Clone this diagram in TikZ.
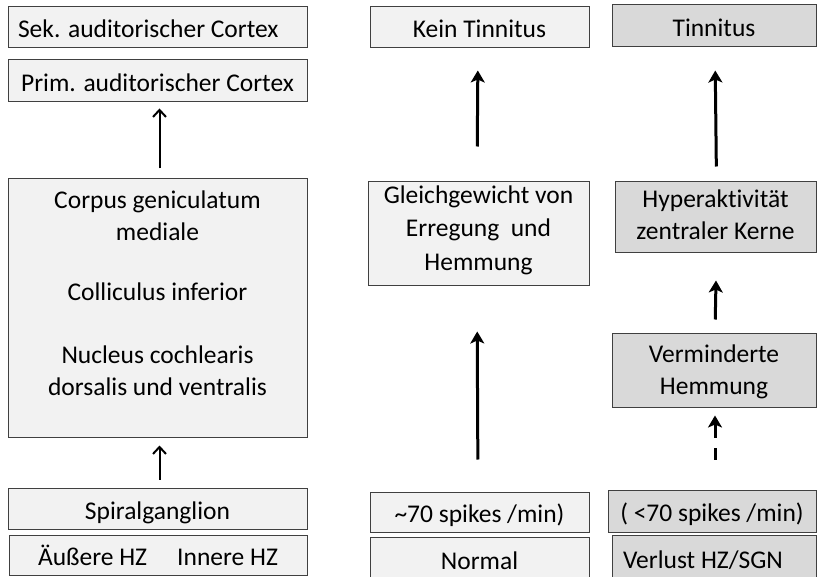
\documentclass[tikz,border=0pt]{standalone}
\usepackage{fontspec}
\setmainfont{Carlito}[Ligatures=NoCommon]
\usetikzlibrary{arrows.meta}
\definecolor{lightfill}{HTML}{F2F2F2}
\definecolor{darkfill}{HTML}{D9D9D9}
\definecolor{edgecol}{HTML}{404040}
\tikzset{
  box/.style={draw=edgecol, line width=1pt, fill=lightfill, inner sep=0pt, align=center,
    font=\fontsize{25.5}{33}\selectfont},
  dbox/.style={box, fill=darkfill},
  oneline/.style={text height=21pt, text depth=0pt},
  thinarrow/.style={line width=2pt, -{Straight Barb[length=7pt,width=13pt]}},
  thickarrow/.style={line width=3pt, -{Stealth[length=12pt,width=14pt,inset=3pt]}},
  txt/.style={inner sep=0pt, align=center, font=\fontsize{25.5}{32}\selectfont}
}
\begin{document}
\begin{tikzpicture}[x=1pt,y=-1pt]
\clip (0,0) rectangle (817,577);
\fill[white] (0,0) rectangle (817,577);
% left column
\node[box, oneline, minimum width=299, minimum height=41, text width=279, inner xsep=10pt, align=flush left] (sek) at (157.5,27.5) {Sek. auditorischer Cortex};
\node[box, oneline, minimum width=299, minimum height=42] (prim) at (157.5,81) {Prim. auditorischer Cortex};
\node[box, minimum width=299, minimum height=258] (big) at (157.5,308) {};
\node[txt] (bigtext) at (157.5,293.5) {Corpus geniculatum\\mediale\\[28pt]Colliculus inferior\\[31pt]Nucleus cochlearis\\dorsalis und ventralis};
\node[box, oneline, minimum width=299, minimum height=41] (spiral) at (157.5,508.5) {Spiralganglion};
\node[box, oneline, minimum width=298, minimum height=40] (hz) at (158,555) {Äußere HZ\hspace{30pt}Innere HZ};
% middle column
\node[box, oneline, minimum width=219, minimum height=41] (kein) at (479.5,27.5) {Kein Tinnitus};
\node[box, minimum width=221, minimum height=104] (gleich) at (478.5,234) {};
\node[txt, font=\fontsize{25.5}{33.5}\selectfont] (gleichtext) at (478.5,230) {Gleichgewicht von\\Erregung~ und\\Hemmung};
\node[box, oneline, minimum width=219, minimum height=40] (snorm) at (479.5,512) {\textasciitilde70 spikes /min)};
\node[box, oneline, minimum width=219, minimum height=43] (normal) at (479.5,558.5) {Normal};
% right column
\node[dbox, oneline, minimum width=204, minimum height=42] (tinn) at (714,26) {Tinnitus};
\node[dbox, minimum width=201, minimum height=71] (hyper) at (715.5,217.5) {};
\node[txt] (hypertext) at (715.5,215) {Hyperaktivität\\zentraler Kerne};
\node[dbox, minimum width=204, minimum height=73] (vermin) at (714,370.5) {};
\node[txt] (vermintext) at (714,372) {Verminderte\\Hemmung};
\node[dbox, oneline, minimum width=208, minimum height=42] (sless) at (712,511) {( <70 spikes /min)};
\node[dbox, oneline, minimum width=204, minimum height=45, text width=182, inner xsep=11pt, align=flush left] (verlust) at (714,557.5) {Verlust HZ/SGN};
% arrows left
\draw[thinarrow, shorten <=10pt, shorten >=6pt] ([xshift=2pt]big.north) -- ([xshift=2pt]prim.south);
\draw[thinarrow, shorten <=8pt, shorten >=8pt] ([xshift=2pt]spiral.north) -- ([xshift=2pt]big.south);
% arrows middle
\draw[thickarrow, shorten <=35pt, shorten >=22pt] ([xshift=-1.5pt]gleich.north) -- ([xshift=-1.5pt]kein.south);
\draw[thickarrow, shorten <=32pt, shorten >=45pt] ([xshift=-1.5pt]snorm.north) -- ([xshift=-1.5pt]gleich.south);
% arrows right
\draw[thickarrow, shorten <=15pt, shorten >=23pt] ([xshift=1pt]hyper.north) -- ([xshift=1pt]tinn.south);
\draw[thickarrow, shorten <=14pt, shorten >=27pt] ([xshift=1pt]vermin.north) -- ([xshift=1pt]hyper.south);
\draw[thickarrow, dash pattern=on 12pt off 10pt on 40pt, shorten <=30pt, shorten >=8pt] ([xshift=3pt]sless.north) -- ([xshift=1pt]vermin.south);
\end{tikzpicture}
\end{document}
